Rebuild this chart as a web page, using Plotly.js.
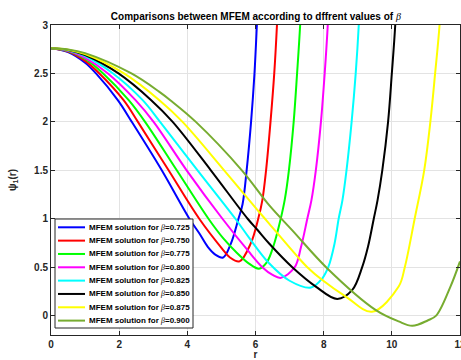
<!DOCTYPE html>
<html>
<head>
<meta charset="utf-8">
<script src="https://cdn.plot.ly/plotly-3.0.1.min.js"></script>
<style>html,body{margin:0;padding:0;background:#fff;}#chart{width:461px;height:360px;}</style>
</head>
<body>
<div id="chart"></div>
<script>
// beta values and colours
const betas = ['0.725','0.750','0.775','0.800','0.825','0.850','0.875','0.900'];
const colors = ['#0000ff','#ff0000','#00ff00','#ff00ff','#00ffff','#000000','#ffff00','#77ac30'];

// curves (r, psi_1(r))
const r725 = [0,0.5,1.0,1.32,1.96,2.37,3.25,4.06,4.35,4.6,4.82,5.05,5.28,5.5,5.62,5.74,5.87,5.97,6.04,6.1];
const p725 = [2.76,2.72,2.61,2.5,2.224,2.0,1.5,1.0,0.85,0.71,0.63,0.60,0.745,1.0,1.15,1.5,2.0,2.5,3.0,3.5];

const r750 = [0,0.5,1.0,1.42,2.13,2.55,3.45,4.35,5.0,5.25,5.53,5.86,6.08,6.2,6.31,6.44,6.55,6.63,6.69];
const p750 = [2.76,2.727,2.63,2.5,2.224,2.0,1.5,1.0,0.70,0.6,0.56,0.745,1.0,1.19,1.5,2.0,2.5,3.0,3.5];

const r775 = [0,0.5,1.0,1.53,2.28,2.76,3.69,4.62,5.05,5.45,5.8,6.1,6.33,6.55,6.74,6.86,6.98,7.12,7.22,7.31,7.37];
const p775 = [2.76,2.73,2.65,2.5,2.224,2.0,1.5,1.0,0.8,0.65,0.54,0.485,0.55,0.745,1.0,1.2,1.5,2.0,2.5,3.0,3.5];

const r800 = [0,0.5,1.0,1.67,2.48,3.01,3.98,5.03,5.78,6.2,6.5,6.75,7.15,7.33,7.52,7.64,7.77,7.92,8.03,8.12,8.18];
const p800 = [2.76,2.735,2.66,2.5,2.224,2.0,1.5,1.0,0.67,0.5,0.42,0.39,0.5,0.7,1.0,1.19,1.5,2.0,2.5,3.0,3.5];

const r825 = [0,0.5,1.0,1.82,2.69,3.2,4.30,5.41,5.82,6.40,7.0,7.63,7.95,8.14,8.32,8.44,8.55,8.67,8.82,8.94,9.03,9.09];
const p825 = [2.76,2.74,2.68,2.5,2.224,2.0,1.5,1.0,0.80,0.54,0.36,0.29,0.38,0.505,0.745,1.0,1.19,1.5,2.0,2.5,3.0,3.5];

const r850 = [0,0.5,1.0,1.98,2.94,3.57,4.69,5.77,6.06,6.40,7.08,7.77,8.4,8.84,9.13,9.30,9.47,9.58,9.72,9.89,10.0,10.1,10.16];
const p850 = [2.76,2.743,2.69,2.5,2.224,2.0,1.5,1.0,0.884,0.745,0.5,0.30,0.172,0.265,0.5,0.71,1.0,1.19,1.5,2.0,2.5,3.0,3.5];

const r875 = [0,0.5,1.0,2.14,3.18,3.86,5.08,6.06,6.4,7.28,7.52,7.96,8.65,9.42,10.2,10.38,10.67,10.95,11.13,11.27,11.40,11.47];
const p875 = [2.76,2.745,2.70,2.5,2.224,2.0,1.5,1.09,0.95,0.59,0.5,0.367,0.196,0.04,0.3,0.5,1.0,1.5,2.0,2.5,3.0,3.5];

const r900 = [0,0.5,1.0,2.36,3.18,3.5,4.25,5.6,6.4,7.08,8.1,9.52,10.2,10.6,11.05,11.3,11.72,12.0];
const p900 = [2.76,2.748,2.71,2.5,2.31,2.224,2.0,1.5,1.14,0.88,0.49,0.06,-0.06,-0.105,-0.05,0.0,0.3,0.56];

const xTicks = [0,2,4,6,8,10,12];
const yTicks = [0,0.5,1,1.5,2,2.5,3];

const rs = [r725,r750,r775,r800,r825,r850,r875,r900];
const ps = [p725,p750,p775,p800,p825,p850,p875,p900];

const beta = '<span style="font-family:Liberation Serif;font-style:italic">β</span>';

const traces = betas.map((b,i) => ({
  x: rs[i], y: ps[i], type: 'scatter', mode: 'lines', showlegend: false,
  line: {color: colors[i], width: 2, shape: 'spline', smoothing: 1},
  name: 'MFEM solution for β=' + b
}));

// plot area geometry in pixels (for a compact MATLAB-style legend)
const M = {l: 51, r: 1, t: 25, b: 25};
const W = 461, H = 360;
const pw = W - M.l - M.r, ph = H - M.t - M.b;
const px2x = p => (p - M.l) / pw;
const py2y = p => (H - M.b - p) / ph;

const legBox = {x0: 55, x1: 193, y0: 219, y1: 328};
const legRow0 = 227.3, legStep = 13.33;

const shapes = [{
  type: 'rect', xref: 'paper', yref: 'paper',
  x0: px2x(legBox.x0), x1: px2x(legBox.x1), y0: py2y(legBox.y1), y1: py2y(legBox.y0),
  fillcolor: '#ffffff', line: {color: '#262626', width: 1}, layer: 'above'
}];
const annotations = [];
betas.forEach((b,i) => {
  const yy = py2y(legRow0 + i * legStep);
  shapes.push({type: 'line', xref: 'paper', yref: 'paper',
    x0: px2x(58), x1: px2x(85), y0: yy, y1: yy,
    line: {color: colors[i], width: 2}, layer: 'above'});
  annotations.push({xref: 'paper', yref: 'paper', x: px2x(86.5), y: yy,
    xanchor: 'left', yanchor: 'middle', showarrow: false,
    text: '<b>MFEM solution for </b>' + beta + '<b>=' + b + '</b>',
    font: {family: 'Liberation Sans, Arial, sans-serif', size: 8, color: '#000'}});
});

const axisCommon = {
  showline: true, linecolor: '#262626', linewidth: 1, mirror: 'ticks',
  ticks: 'inside', ticklen: 4, tickcolor: '#262626',
  showgrid: true, gridcolor: '#e3e3e3', gridwidth: 1, zeroline: false,
  ticklabeloverflow: 'allow',
  tickfont: {family: 'Liberation Sans, Arial, sans-serif', size: 10, weight: 'bold', color: '#262626'}
};

const layout = {
  width: W, height: H,
  margin: M,
  paper_bgcolor: '#ffffff', plot_bgcolor: '#ffffff',
  showlegend: false,
  title: {
    text: '<b>Comparisons between MFEM according to dffrent values of </b>' + beta,
    font: {family: 'Liberation Sans, Arial, sans-serif', size: 10, color: '#000'},
    x: 0.555, xanchor: 'center', y: 0.955, yanchor: 'middle', yref: 'container'
  },
  xaxis: Object.assign({}, axisCommon, {
    range: [0, 12], tickvals: xTicks, ticktext: xTicks.map(String),
    title: {text: '<b>r</b>', font: {family: 'Liberation Sans, Arial, sans-serif', size: 10, color: '#262626'}, standoff: 2}
  }),
  yaxis: Object.assign({}, axisCommon, {
    range: [-0.2, 3], tickvals: yTicks, ticktext: yTicks.map(String),
    title: {text: '<b>ψ<sub>1</sub>(r)</b>', font: {family: 'Liberation Sans, Arial, sans-serif', size: 10, color: '#262626'}, standoff: 15}
  }),
  shapes: shapes,
  annotations: annotations
};

Plotly.newPlot('chart', traces, layout, {displayModeBar: false, staticPlot: true});
</script>
</body>
</html>
